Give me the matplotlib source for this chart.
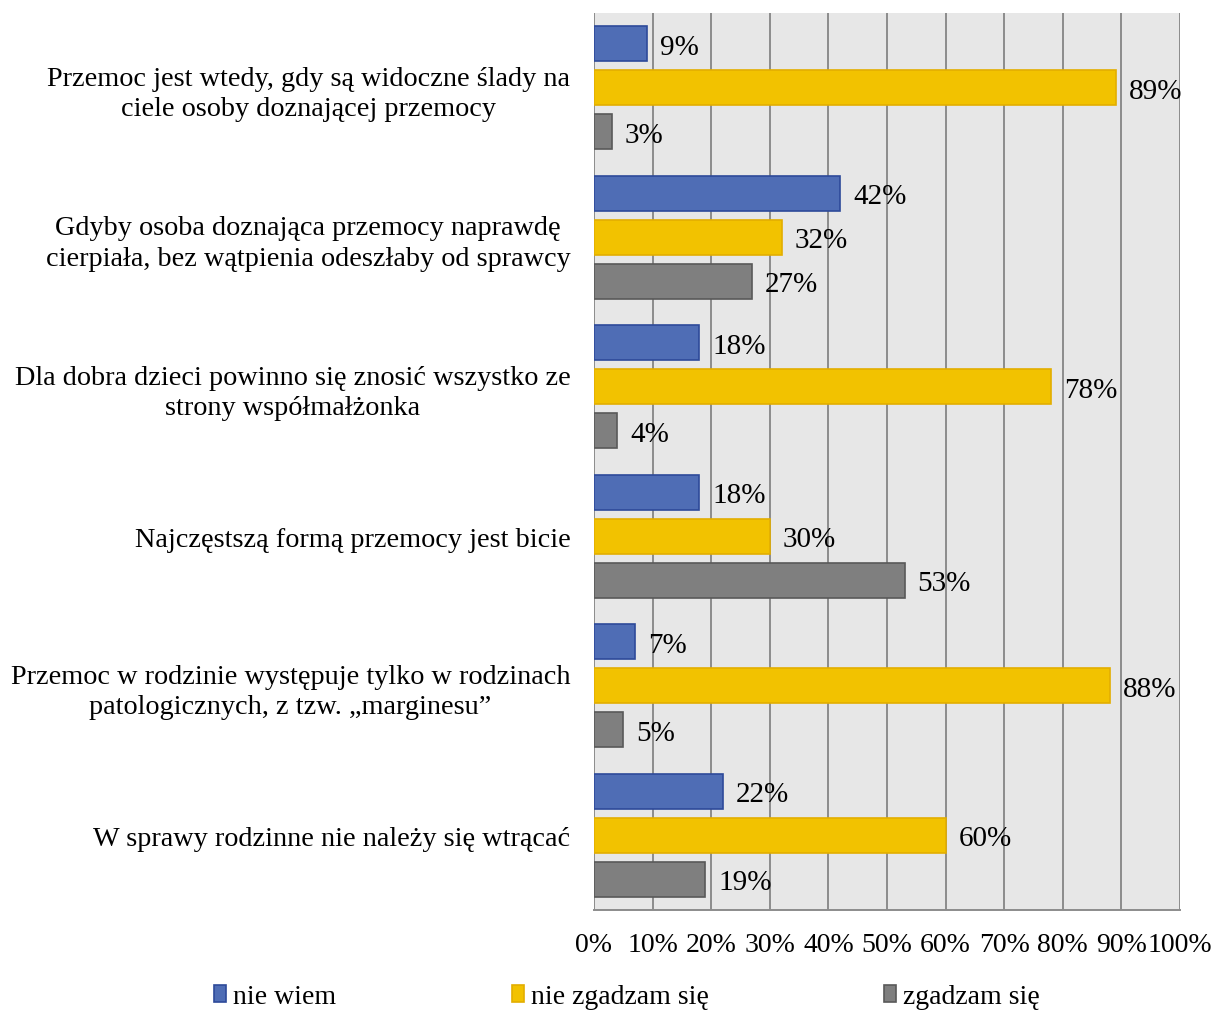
import matplotlib
matplotlib.use("Agg")
import matplotlib.pyplot as plt
import numpy as np

categories = [
    "Przemoc jest wtedy, gdy są widoczne ślady na\nciele osoby doznającej przemocy",
    "Gdyby osoba doznająca przemocy naprawdę\ncierpiała, bez wątpienia odeszłaby od sprawcy",
    "Dla dobra dzieci powinno się znosić wszystko ze\nstrony współmałżonka",
    "Najczęstszą formą przemocy jest bicie",
    "Przemoc w rodzinie występuje tylko w rodzinach\npatologicznych, z tzw. „marginesu”",
    "W sprawy rodzinne nie należy się wtrącać",
]
series_names = ["nie wiem", "nie zgadzam się", "zgadzam się"]
nie_wiem = [9, 42, 18, 18, 7, 22]
nie_zgadzam = [89, 32, 78, 30, 88, 60]
zgadzam = [3, 27, 4, 53, 5, 19]
x_ticks = [0, 10, 20, 30, 40, 50, 60, 70, 80, 90, 100]

colors = ["#4F6DB5", "#F2C200", "#7F7F7F"]
edges = ["#2E4A9A", "#E3AE00", "#595959"]

plt.rcParams['font.family'] = ['Liberation Serif', 'DejaVu Serif']
FS = 20
FSC = 20.3
FSV = 21

fig = plt.figure(figsize=(12.15, 10.12), dpi=100)
ax = fig.add_axes([594/1215, 1-911/1012, (1180-594)/1215, (911-14)/1012])
ax.set_facecolor("#E7E7E7")

y = np.arange(len(categories))
offs = [-0.294, 0.0, 0.294]
h = 0.234
for vals, off, c, ec, name in zip([nie_wiem, nie_zgadzam, zgadzam], offs, colors, edges, series_names):
    bars = ax.barh(y + off, vals, height=h, color=c, edgecolor=ec, linewidth=1.2, label=name, zorder=3)
    for b, v in zip(bars, vals):
        ax.text(v + 2.2, b.get_y() + b.get_height()/2 + 0.02, f"{v}%", va="center", ha="left",
                fontsize=FSV, color="#000000", zorder=4)

ax.set_xlim(0, 100)
ax.set_ylim(len(categories) - 0.5, -0.5)
ax.set_xticks(x_ticks)
ax.set_xticklabels([f"{t}%" for t in x_ticks], fontsize=FS)
ax.set_yticks(y)
ax.set_yticklabels(categories, fontsize=FSC, multialignment="center", linespacing=1.3)
ax.tick_params(axis="y", length=0, pad=17)
ax.tick_params(axis="x", length=0, pad=16)
ax.grid(axis="x", color="#8C8C8C", linewidth=1.4, zorder=1)
for s in ["top", "right", "left"]:
    ax.spines[s].set_visible(False)
ax.spines["bottom"].set_color("#8C8C8C")
ax.spines["bottom"].set_linewidth(1.4)

leg = fig.legend(loc="center", bbox_to_anchor=(627/1215, 1-998/1012), ncol=3, frameon=False,
                 fontsize=FS, handlelength=0.45, handleheight=0.55, handletextpad=0.25,
                 columnspacing=6.3)

fig.savefig("out.png", dpi=100)
